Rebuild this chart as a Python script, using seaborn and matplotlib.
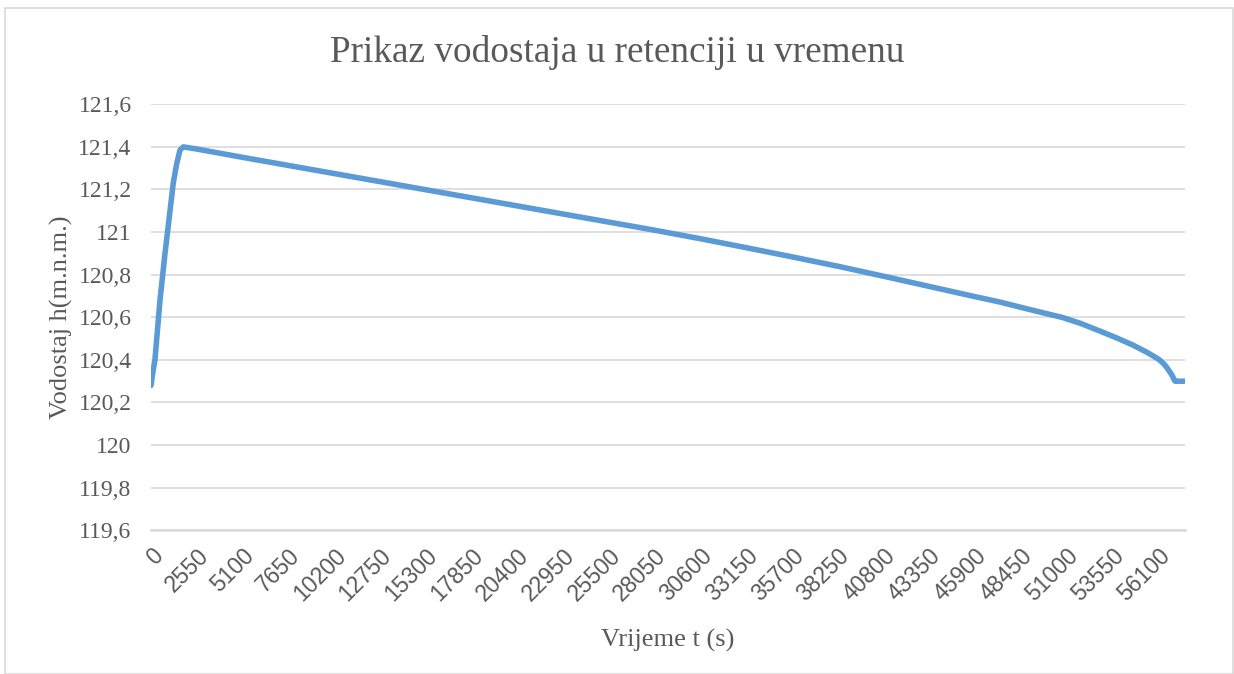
import numpy as np
import pandas as pd
import matplotlib
matplotlib.use("Agg")
import matplotlib.pyplot as plt
import seaborn as sns
from matplotlib.patches import Rectangle

# Time (s) and water level h (m.n.m.)
time_s = [0, 100, 220, 500, 780, 1060, 1240, 1430, 1615, 1800,
          2550, 5100, 7650, 10200, 12750, 15300, 17850, 20400, 22950,
          25500, 28050, 30600, 33150, 35700, 38250, 40800, 43350, 45900,
          47270, 48450, 49700, 50780, 51800, 52840, 53800, 54690, 55450,
          56000, 56180, 56400, 56600, 56800, 56920, 57000, 57050, 57600]
level_h = [120.28, 120.34, 120.40, 120.68, 120.90, 121.10, 121.23, 121.32, 121.385, 121.40,
           121.39, 121.351, 121.313, 121.275, 121.237, 121.199, 121.161, 121.123, 121.085,
           121.047, 121.009, 120.969, 120.927, 120.884, 120.840, 120.793, 120.745, 120.697,
           120.672, 120.647, 120.621, 120.599, 120.571, 120.536, 120.503, 120.470, 120.437,
           120.410, 120.400, 120.383, 120.363, 120.338, 120.321, 120.305, 120.300, 120.300]

# Axis ticks
x_ticks = list(range(0, 56101, 2550))
y_ticks = [119.6, 119.8, 120.0, 120.2, 120.4, 120.6, 120.8, 121.0, 121.2, 121.4, 121.6]
y_labels = ["119,6", "119,8", "120", "120,2", "120,4", "120,6", "120,8", "121", "121,2", "121,4", "121,6"]

df = pd.DataFrame({"t": time_s, "h": level_h})

sns.set_theme(style="white")
plt.rcParams["font.family"] = ["Liberation Serif", "DejaVu Serif"]

grey_text = "#595959"
grid_col = "#d9d9d9"

fig = plt.figure(figsize=(12.34, 6.74), dpi=100)
ax = fig.add_axes([151 / 1234, 1 - 530.3 / 674, (1185 - 151) / 1234, (530.3 - 104.3) / 674])

# outer chart border
fig.patches.append(Rectangle((5 / 1234, 0), 1228 / 1234, 1 - 8 / 674, transform=fig.transFigure,
                             fill=False, edgecolor=grid_col, linewidth=1.2))

sns.lineplot(data=df, x="t", y="h", ax=ax, color="#5b9bd5", linewidth=4,
             solid_capstyle="round", solid_joinstyle="round")

ax.set_xlim(0, 57600)
ax.set_ylim(119.6, 121.6)
ax.set_yticks(y_ticks)
ax.set_yticklabels(y_labels, fontsize=17, color=grey_text)
ax.set_xticks(x_ticks)
ax.set_xticklabels([str(v) for v in x_ticks], fontsize=16.5, color=grey_text,
                   rotation=45, ha="right", va="top", rotation_mode="anchor",
                   family=["Liberation Sans", "DejaVu Sans"])
ax.tick_params(axis="both", length=0)
ax.tick_params(axis="y", pad=14)
ax.tick_params(axis="x", pad=10)

ax.grid(axis="y", color=grid_col, linewidth=1.2)
ax.set_axisbelow(True)
for side in ["top", "right", "left"]:
    ax.spines[side].set_visible(False)
ax.spines["bottom"].set_color(grid_col)
ax.spines["bottom"].set_linewidth(1.8)

ax.set_xlabel("Vrijeme t (s)", fontsize=19, color=grey_text, labelpad=17)
ax.set_ylabel("Vodostaj h(m.n.m.)", fontsize=19, color=grey_text, labelpad=4)
fig.text(0.5, 1 - 52 / 674, "Prikaz vodostaja u retenciji u vremenu", ha="center", va="center",
         fontsize=26.8, color=grey_text)

fig.savefig("out.png", dpi=100)
